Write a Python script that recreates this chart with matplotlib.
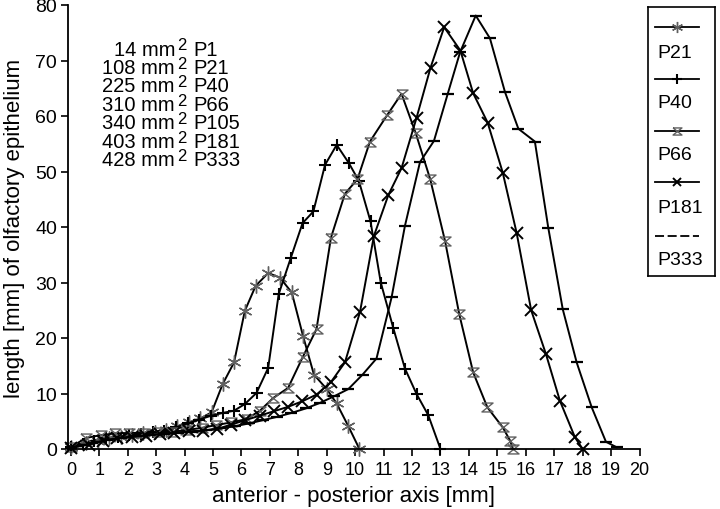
import matplotlib
matplotlib.use('Agg')
import matplotlib.pyplot as plt
from matplotlib.path import Path

plt.rcParams['font.family'] = ['Liberation Sans', 'DejaVu Sans']

# series (x in mm, y in mm)
p21_x = [0.0, 0.55, 0.95, 1.35, 1.75, 2.15, 2.55, 2.95, 3.35, 3.75, 4.15, 4.55, 4.95,
         5.34, 5.74, 6.12, 6.50, 6.94, 7.35, 7.77, 8.17, 8.55, 9.0, 9.35, 9.76, 10.15]
p21_y = [0.3, 1.0, 1.5, 1.9, 2.2, 2.5, 2.8, 3.0, 3.4, 4.1, 4.8, 5.5, 6.6,
         11.7, 15.6, 24.9, 29.4, 31.7, 30.9, 28.2, 20.3, 13.4, 10.8, 8.2, 4.1, 0.0]

p40_x = [0.0, 0.42, 0.83, 1.24, 1.65, 2.06, 2.47, 2.88, 3.29, 3.70, 4.11, 4.52, 4.93,
         5.34, 5.74, 6.12, 6.53, 6.94, 7.31, 7.74, 8.15, 8.53, 8.94, 9.35, 9.78, 10.13,
         10.54, 10.90, 11.34, 11.75, 12.16, 12.57, 13.0]
p40_y = [0.3, 0.9, 1.5, 1.9, 2.2, 2.5, 2.7, 3.0, 3.3, 3.9, 4.6, 5.3, 6.0,
         6.5, 6.9, 8.1, 10.1, 14.6, 27.9, 34.5, 40.7, 42.8, 51.2, 54.8, 51.5, 48.3,
         41.0, 30.0, 21.8, 14.5, 9.9, 6.1, 0.0]

p66_x = [0.0, 0.55, 1.05, 1.55, 2.05, 2.55, 3.05, 3.55, 4.05, 4.6, 5.1, 5.65, 6.18,
         6.65, 7.12, 7.64, 8.15, 8.64, 9.15, 9.64, 10.08, 10.52, 11.13, 11.63, 12.13,
         12.64, 13.16, 13.66, 14.15, 14.65, 15.19, 15.45, 15.55]
p66_y = [0.4, 2.0, 2.5, 2.8, 2.9, 2.9, 3.0, 3.1, 3.4, 3.8, 4.3, 4.8, 5.4,
         6.9, 9.2, 11.0, 16.5, 21.6, 38.1, 46.0, 48.6, 55.4, 60.2, 64.0, 56.9,
         48.6, 37.5, 24.3, 13.8, 7.5, 3.9, 1.5, 0.0]

p181_x = [0.0, 0.64, 1.14, 1.64, 2.14, 2.64, 3.14, 3.64, 4.14, 4.64, 5.14, 5.64, 6.14,
          6.64, 7.14, 7.64, 8.14, 8.64, 9.14, 9.64, 10.17, 10.66, 11.17, 11.63, 12.16,
          12.65, 13.13, 13.70, 14.15, 14.66, 15.19, 15.68, 16.19, 16.71, 17.20, 17.73, 18.0]
p181_y = [0.2, 0.8, 1.5, 1.9, 2.2, 2.4, 2.7, 2.9, 3.2, 3.3, 3.6, 4.4, 5.2,
          6.0, 6.8, 7.6, 8.6, 9.8, 12.0, 15.6, 24.7, 38.4, 45.8, 50.6, 59.7,
          68.7, 76.0, 71.8, 64.1, 58.8, 49.8, 38.9, 25.0, 17.1, 8.7, 2.1, 0.0]

p333_x = [0.0, 0.76, 1.26, 1.76, 2.26, 2.76, 3.26, 3.76, 4.26, 4.76, 5.26, 5.76, 6.26,
          6.76, 7.26, 7.76, 8.26, 8.76, 9.26, 9.76, 10.26, 10.75, 11.28, 11.75, 12.28,
          12.77, 13.25, 13.69, 14.24, 14.74, 15.27, 15.74, 16.32, 16.79, 17.30, 17.79,
          18.32, 18.82, 19.2]
p333_y = [0.2, 1.0, 1.6, 2.0, 2.3, 2.5, 2.7, 2.9, 3.1, 3.4, 3.7, 4.1, 4.6,
          5.2, 5.8, 6.5, 7.3, 8.3, 9.5, 10.8, 13.4, 16.3, 27.3, 40.2, 51.7,
          55.5, 63.9, 71.5, 78.1, 74.0, 64.3, 57.7, 55.4, 39.9, 25.2, 15.6,
          7.5, 1.3, 0.3]

labels = ['P21', 'P40', 'P66', 'P181', 'P333']

areas = ['14', '108', '225', '310', '340', '403', '428']
ages = ['P1', 'P21', 'P40', 'P66', 'P105', 'P181', 'P333']

# hourglass marker
hourglass = Path([(-1, 0.8), (1, 0.8), (-1, -0.8), (1, -0.8), (-1, 0.8)])

styles = [
    dict(marker=(6, 2, 0), ms=10, mec='#606060', mew=1.0),
    dict(marker='+', ms=9, mec='black', mew=1.5),
    dict(marker=hourglass, ms=8, mec='#606060', mfc='none', mew=1.0),
    dict(marker='x', ms=8, mec='black', mew=1.4),
    dict(marker='_', ms=9, mec='black', mew=1.6),
]

fig = plt.figure(figsize=(7.2, 5.1), dpi=100)
ax = fig.add_axes([68 / 720, 60 / 510, 571.5 / 720, 444 / 510])

series = [(p21_x, p21_y), (p40_x, p40_y), (p66_x, p66_y), (p181_x, p181_y), (p333_x, p333_y)]
for (xs, ys), st in zip(series, styles):
    ax.plot(xs, ys, color='black', lw=1.4, clip_on=False, **st)

ax.set_xlim(-0.1, 20)
ax.set_ylim(0, 80)
ax.set_xticks(range(0, 21))
ax.set_yticks(range(0, 81, 10))
ax.spines['top'].set_visible(False)
ax.spines['right'].set_visible(False)
ax.spines['left'].set_linewidth(1.3)
ax.spines['bottom'].set_linewidth(1.3)
ax.tick_params(axis='x', direction='out', length=5, width=1.2, labelsize=13, pad=4)
ax.tick_params(axis='y', direction='out', length=5, width=1.2, labelsize=14, pad=3)
ax.set_xlabel('anterior - posterior axis [mm]', fontsize=16, labelpad=5)
ax.set_ylabel('length [mm] of olfactory epithelium', fontsize=16, labelpad=7)

# area / age table
for i, (a, g) in enumerate(zip(areas, ages)):
    yy = 1 - (50 + i * 18.45) / 510
    fig.text(175 / 720, yy, a + ' mm', ha='right', va='center', fontsize=14.5)
    fig.text(177 / 720, yy + 4 / 510, '2', ha='left', va='center', fontsize=12)
    fig.text(193 / 720, yy, g, ha='left', va='center', fontsize=14.5)

# legend box: line sample on top, label underneath
lax = fig.add_axes([648 / 720, (510 - 277) / 510, 67 / 720, 269 / 510])
lax.set_xlim(648, 715)
lax.set_ylim(277, 8)
lax.set_xticks([])
lax.set_yticks([])
for sp in lax.spines.values():
    sp.set_linewidth(1.2)
line_y = [28, 80, 132, 183, 237]
text_y = [53, 103, 155, 208, 260]
for k, (lab, st) in enumerate(zip(labels, styles)):
    st2 = dict(st)
    st2['ms'] = st['ms'] * 0.8
    if lab == 'P333':
        lax.plot([655, 699], [line_y[k], line_y[k]], color='black', lw=1.3, ls=(0, (5, 2)))
    else:
        lax.plot([655, 677, 699], [line_y[k]] * 3, color='black', lw=1.3, markevery=[1], **st2)
    lax.text(657, text_y[k], lab, ha='left', va='center', fontsize=14)

fig.savefig('out.png', dpi=100)
